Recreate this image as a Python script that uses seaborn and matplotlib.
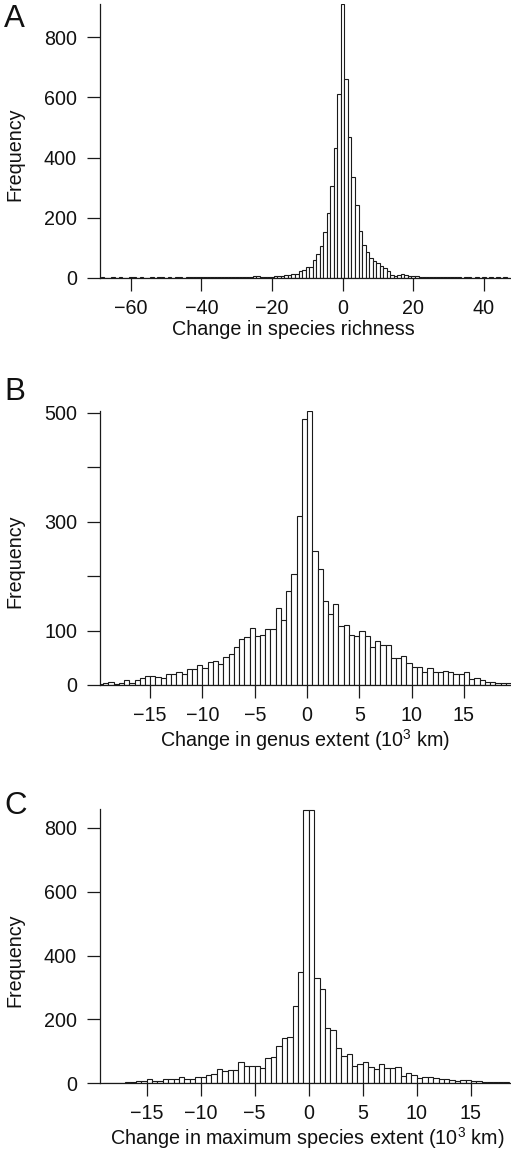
import numpy as np
import pandas as pd
import matplotlib
matplotlib.use("Agg")
import matplotlib.pyplot as plt
import seaborn as sns

# A: change in species richness (bins of width 1, centred on integers)
rich_x = np.arange(-68, 48)
rich_n = [1, 0, 0, 1, 0, 1, 0, 0, 1, 1, 0, 1, 0, 0, 1, 0, 1, 1, 0, 1, 0, 1,
          1, 0, 1, 1, 1, 2, 1, 1, 2, 1, 2, 1, 2, 2, 1, 2, 3, 2, 2, 3, 2,
          4, 4, 2, 2, 3, 3, 4, 5, 5, 8, 8, 12, 12, 23, 24, 34, 36, 58, 78,
          105, 151, 214, 306, 432, 613, 911, 663, 469, 336, 242, 156, 110,
          85, 64, 55, 48, 40, 33, 21, 9, 7, 10, 12, 9, 7, 5, 4, 3, 2, 3, 2,
          2, 1, 2, 1, 1, 2, 1, 1, 0, 1, 1, 0, 1, 0, 1, 0, 1, 0, 1, 0, 1, 0]

# B: change in genus extent (10^3 km), bins of 0.5 from -20
genus_left = np.arange(-20, 19.5, 0.5)
genus_n = [2, 4, 5, 2, 4, 9, 3, 9, 12, 16, 16, 15, 12, 20, 20, 23, 21, 30,
           30, 37, 31, 43, 44, 38, 52, 57, 70, 85, 89, 105, 90, 91, 103, 103,
           141, 120, 172, 204, 311, 489,
           503, 246, 213, 155, 131, 148, 108, 111, 91, 90, 100, 90, 70, 81,
           73, 74, 50, 50, 53, 40, 33, 33, 23, 31, 24, 24, 26, 23, 20, 21,
           23, 11, 12, 9, 6, 6, 4, 4, 4]

# C: change in maximum species extent (10^3 km), bins of 0.5 from -19
spec_left = np.arange(-19, 18.5, 0.5)
spec_n = [1, 1, 2, 2, 3, 4, 7, 8, 15, 6, 8, 15, 15, 12, 19, 15, 12, 21, 21,
          26, 29, 44, 39, 41, 41, 68, 55, 55, 54, 49, 78, 81, 118, 141, 146,
          243, 349, 856,
          856, 330, 295, 174, 166, 109, 85, 92, 54, 59, 68, 52, 46, 61, 48,
          48, 51, 23, 33, 26, 17, 20, 20, 18, 14, 14, 10, 7, 9, 10, 8, 7, 5,
          5, 4, 3, 3]

sns.set_style("ticks")
plt.rcParams['font.family'] = ['Liberation Sans', 'DejaVu Sans']
plt.rcParams['mathtext.fontset'] = 'custom'
plt.rcParams['mathtext.rm'] = 'Liberation Sans'
plt.rcParams['mathtext.default'] = 'regular'
plt.rcParams['text.color'] = '#111111'
plt.rcParams['axes.labelcolor'] = '#111111'

W, H = 511, 1162
fig = plt.figure(figsize=(W / 100, H / 100), dpi=100)
fs = 14.2


def px_axes(top, bottom, left=100, right=511):
    return fig.add_axes([left / W, 1 - bottom / H, (right - left) / W, (bottom - top) / H])


def style(ax, xlabel, xcenter):
    sns.despine(ax=ax)
    for s in ['left', 'bottom']:
        ax.spines[s].set_linewidth(0.9)
        ax.spines[s].set_color('#1a1a1a')
    ax.tick_params(direction='out', length=9.5, width=0.9, color='#1a1a1a',
                   labelcolor='#111111', labelsize=fs)
    ax.tick_params(axis='x', pad=5.5)
    ax.tick_params(axis='y', pad=7)
    ax.set_ylabel('Frequency', fontsize=fs)
    ax.yaxis.set_label_coords(-0.183, 0.45)
    ax.set_xlabel(xlabel, fontsize=fs)
    h = ax.get_position().height * H
    ax.xaxis.set_label_coords(xcenter, -42 / h)


bar_kw = dict(color='white', edgecolor='#1a1a1a', linewidth=0.8, alpha=1)

# panel A
ax1 = px_axes(4, 277.7)
df_a = pd.DataFrame({'x': rich_x, 'n': rich_n})
sns.histplot(data=df_a, x='x', weights='n', discrete=True, ax=ax1, **bar_kw)
ax1.set_xlim(-68.75, 47.7)
ax1.set_ylim(0, 911)
ax1.set_xticks([-60, -40, -20, 0, 20, 40])
ax1.set_yticks([0, 200, 400, 600, 800])
style(ax1, 'Change in species richness', 0.47)

# panel B
ax2 = px_axes(411, 685)
df_b = pd.DataFrame({'x': genus_left + 0.25, 'n': genus_n})
sns.histplot(data=df_b, x='x', weights='n', binwidth=0.5,
             binrange=(genus_left[0], genus_left[-1] + 0.5), ax=ax2, **bar_kw)
ax2.set_xlim(-19.8, 19.5)
ax2.set_ylim(0, 503)
ax2.set_xticks([-15, -10, -5, 0, 5, 10, 15])
ax2.set_yticks([0, 100, 200, 300, 400, 500])
ax2.set_yticklabels(['0', '100', '', '300', '', '500'])
style(ax2, 'Change in genus extent ($10^{3}$ km)', 0.5)

# panel C
ax3 = px_axes(809.3, 1083.3)
df_c = pd.DataFrame({'x': spec_left + 0.25, 'n': spec_n})
sns.histplot(data=df_c, x='x', weights='n', binwidth=0.5,
             binrange=(spec_left[0], spec_left[-1] + 0.5), ax=ax3, **bar_kw)
ax3.set_xlim(-19.3, 18.7)
ax3.set_ylim(0, 858)
ax3.set_xticks([-15, -10, -5, 0, 5, 10, 15])
ax3.set_yticks([0, 200, 400, 600, 800])
style(ax3, 'Change in maximum species extent ($10^{3}$ km)', 0.505)

for lab, top in [('A', 4), ('B', 377), ('C', 791)]:
    fig.text(4 / W, 1 - top / H, lab, fontsize=22.5, va='top', ha='left')

fig.savefig('out.png', dpi=100)
